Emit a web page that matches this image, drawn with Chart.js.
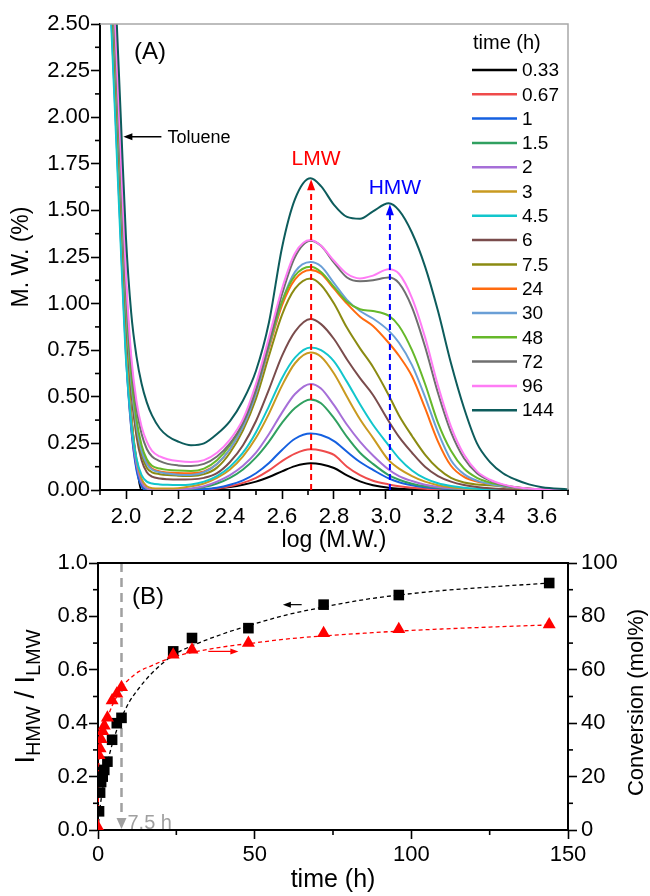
<!DOCTYPE html>
<html><head><meta charset="utf-8">
<script src="https://cdn.jsdelivr.net/npm/chart.js@4.4.1/dist/chart.umd.min.js"></script>
<style>
html,body{margin:0;padding:0;background:#fff;}
#wrap{position:relative;width:650px;height:896px;overflow:hidden;background:#fff;}
#ca{position:absolute;left:0;top:0;}
#cb{position:absolute;left:0;top:540px;}
</style></head><body>
<div id="wrap">
<canvas id="ca" width="650" height="570"></canvas>
<canvas id="cb" width="650" height="356"></canvas>
</div>
<script>
// ---------------- Panel A data ----------------
const logMW = [1.94,1.96,1.98,2.00,2.02,2.04,2.06,2.08,2.10,2.13,2.16,2.20,2.25,2.30,2.35,2.40,2.45,2.50,2.55,2.60,2.65,2.71,2.75,2.80,2.85,2.90,2.95,3.01,3.05,3.10,3.15,3.20,3.25,3.30,3.35,3.40,3.45,3.50,3.55,3.60,3.70];
const xTicksA = [2.0,2.2,2.4,2.6,2.8,3.0,3.2,3.4,3.6];
const timeLabels = ['0.33','0.67','1','1.5','2','3','4.5','6','7.5','24','30','48','72','96','144'];
const curveColors = ['#000000','#ef4b4b','#1560e0','#30a060','#a66fd8','#c99a20','#12c6cc','#7a4c4c','#8b8b12','#ff6b0f','#6a9fd6','#66b82a','#6f6f6f','#ff7cf5','#0d5c5c'];
const mw_0_33 = [2.75,2.1,1.45,0.8,0.4,0.15,0.0,0,0,0,0,0,0,0.003,0.008,0.016,0.028,0.045,0.07,0.1,0.128,0.143,0.138,0.118,0.078,0.046,0.026,0.012,0.007,0.004,0.002,0.001,0,0,0,0,0,0,0,0,0];
const mw_0_67 = [2.7,2.05,1.4,0.75,0.34,0.12,0.025,0,0,0,0,0,0,0.002,0.008,0.02,0.038,0.065,0.105,0.155,0.195,0.218,0.212,0.188,0.125,0.08,0.05,0.03,0.02,0.012,0.007,0.004,0.002,0.001,0,0,0,0,0,0,0];
const mw_1 = [2.65,2.0,1.35,0.72,0.33,0.11,0.02,0,0,0,0,0,0,0.004,0.012,0.028,0.052,0.09,0.145,0.215,0.275,0.303,0.295,0.262,0.205,0.15,0.108,0.062,0.042,0.026,0.015,0.009,0.005,0.003,0.001,0,0,0,0,0,0];
const mw_1_5 = [2.75,2.1,1.45,0.8,0.39,0.15,0.04,0.006,0,0,0,0.002,0.006,0.016,0.035,0.065,0.11,0.175,0.26,0.36,0.44,0.486,0.465,0.385,0.285,0.2,0.14,0.08,0.055,0.034,0.02,0.012,0.007,0.004,0.002,0.001,0,0,0,0,0];
const mw_2 = [2.7,2.05,1.4,0.75,0.36,0.14,0.04,0.008,0.002,0,0,0.002,0.008,0.02,0.045,0.08,0.13,0.2,0.3,0.415,0.515,0.569,0.545,0.455,0.35,0.26,0.185,0.11,0.075,0.048,0.028,0.016,0.009,0.005,0.003,0.001,0,0,0,0,0];
const mw_3 = [2.75,2.1,1.45,0.8,0.4,0.17,0.06,0.02,0.01,0.008,0.008,0.01,0.02,0.035,0.065,0.11,0.18,0.28,0.41,0.56,0.68,0.737,0.715,0.625,0.5,0.38,0.28,0.16,0.115,0.075,0.045,0.026,0.015,0.008,0.004,0.002,0.001,0,0,0,0];
const mw_4_5 = [2.6,1.95,1.3,0.7,0.36,0.17,0.08,0.045,0.035,0.03,0.028,0.027,0.03,0.045,0.075,0.125,0.2,0.31,0.45,0.6,0.71,0.764,0.75,0.69,0.58,0.46,0.35,0.24,0.17,0.105,0.062,0.036,0.021,0.012,0.007,0.004,0.002,0.001,0,0,0];
const mw_6 = [2.85,2.25,1.6,0.95,0.53,0.29,0.16,0.095,0.072,0.062,0.058,0.056,0.057,0.065,0.09,0.15,0.24,0.37,0.54,0.72,0.85,0.917,0.89,0.81,0.7,0.6,0.51,0.37,0.285,0.2,0.125,0.075,0.045,0.027,0.016,0.009,0.005,0.003,0.001,0,0];
const mw_7_5 = [2.9,2.3,1.65,1.0,0.57,0.33,0.19,0.12,0.095,0.085,0.08,0.077,0.075,0.085,0.12,0.2,0.32,0.49,0.72,0.94,1.08,1.135,1.1,1.0,0.87,0.76,0.66,0.51,0.4,0.29,0.19,0.115,0.065,0.04,0.03,0.025,0.018,0.01,0.005,0.002,0];
const mw_24 = [2.95,2.35,1.7,1.05,0.6,0.36,0.22,0.15,0.115,0.1,0.094,0.091,0.09,0.1,0.14,0.22,0.34,0.52,0.76,0.99,1.13,1.18,1.16,1.08,1.0,0.93,0.88,0.79,0.72,0.61,0.44,0.26,0.13,0.07,0.045,0.032,0.022,0.013,0.007,0.003,0];
const mw_30 = [2.9,2.3,1.65,1.0,0.58,0.35,0.21,0.14,0.11,0.095,0.088,0.082,0.08,0.095,0.14,0.22,0.34,0.52,0.77,1.01,1.17,1.223,1.2,1.11,1.02,0.96,0.92,0.855,0.79,0.67,0.5,0.31,0.16,0.085,0.05,0.032,0.02,0.012,0.006,0.003,0];
const mw_48 = [2.95,2.35,1.7,1.05,0.62,0.38,0.24,0.165,0.13,0.115,0.108,0.104,0.102,0.115,0.16,0.24,0.36,0.54,0.78,1.01,1.15,1.198,1.17,1.09,1.01,0.97,0.96,0.935,0.88,0.75,0.57,0.36,0.21,0.115,0.065,0.04,0.025,0.015,0.008,0.004,0];
const mw_72 = [3.0,2.4,1.75,1.1,0.68,0.44,0.3,0.22,0.18,0.155,0.14,0.132,0.129,0.14,0.18,0.25,0.36,0.54,0.79,1.05,1.25,1.337,1.31,1.22,1.14,1.12,1.125,1.14,1.11,0.98,0.77,0.52,0.31,0.17,0.09,0.05,0.027,0.014,0.007,0.003,0];
const mw_96 = [3.1,2.45,1.8,1.15,0.72,0.48,0.34,0.26,0.21,0.18,0.165,0.155,0.15,0.16,0.2,0.27,0.38,0.57,0.82,1.08,1.27,1.341,1.31,1.23,1.16,1.135,1.15,1.184,1.16,1.03,0.82,0.56,0.34,0.19,0.1,0.055,0.03,0.015,0.008,0.004,0];
const mw_144 = [3.3,2.65,2.0,1.35,0.95,0.72,0.57,0.47,0.4,0.33,0.29,0.26,0.24,0.25,0.3,0.37,0.48,0.64,0.9,1.3,1.56,1.672,1.63,1.53,1.465,1.455,1.495,1.538,1.5,1.38,1.2,0.96,0.68,0.44,0.25,0.15,0.09,0.055,0.03,0.015,0.003];
const mwSeries = [mw_0_33,mw_0_67,mw_1,mw_1_5,mw_2,mw_3,mw_4_5,mw_6,mw_7_5,mw_24,mw_30,mw_48,mw_72,mw_96,mw_144];
const lmwPeak = [2.712, 1.672];   // log MW, height of arrow tip
const hmwPeak = [3.015, 1.538];
const toluenePoint = [1.99, 1.895];

// ---------------- Panel B data ----------------
const timeRatio = [0.33,0.67,1,1.5,2,3,4.5,6,7.5,24,30,48,72,96,144];
const ratioHL   = [0.07,0.14,0.18,0.2,0.225,0.256,0.338,0.40,0.42,0.669,0.719,0.756,0.844,0.88,0.925];
const timeConv  = [0,0.33,0.67,1,1.5,2,3,4.5,6,7.5,24,30,48,72,96,144];
const conversion= [1,28,30.5,34,37,39,42,48.5,51,53.5,65.6,67.5,70,73.7,75.2,77];
const fitTime   = [0,0.33,0.67,1,2,3,4.5,6,7.5,10,13,17,24,30,40,48,60,72,85,96,110,125,144];
const fitRatio  = [0,0.045,0.085,0.115,0.19,0.25,0.32,0.375,0.42,0.48,0.53,0.585,0.655,0.69,0.735,0.765,0.805,0.835,0.863,0.88,0.897,0.91,0.925];
const fitConv   = [0,27,31,33.5,38.5,42,46.5,50,53.5,56.5,59.3,61.5,64.8,66.5,68.6,69.8,71.5,72.7,73.7,74.5,75.3,76,76.8];
const markTime = 7.5;

// ---------------- common ----------------
const FONT = "'Liberation Sans', Arial, Helvetica, sans-serif";
Chart.defaults.font.family = FONT;
Chart.defaults.color = '#000';
Chart.defaults.animation = false;

const minorTicks = {
  id: 'minorTicks',
  afterDraw(chart, args, opts) {
    const ctx = chart.ctx;
    (opts.list || []).forEach(cfg => {
      const s = chart.scales[cfg.id];
      const vals = s.ticks.map(t => t.value);
      if (vals.length < 2) return;
      const step = vals[1] - vals[0];
      ctx.save(); ctx.strokeStyle = '#000'; ctx.lineWidth = 1.6;
      for (let v = vals[0] - step / 2; v <= s.max + 1e-9; v += step) {
        if (v < s.min - 1e-9) continue;
        const p = s.getPixelForValue(v);
        ctx.beginPath();
        if (s.isHorizontal()) { ctx.moveTo(p, s.top); ctx.lineTo(p, s.top + cfg.len); }
        else if (s.position === 'left') { ctx.moveTo(s.right, p); ctx.lineTo(s.right - cfg.len, p); }
        else { ctx.moveTo(s.left, p); ctx.lineTo(s.left + cfg.len, p); }
        ctx.stroke();
      }
      ctx.restore();
    });
  }
};

function arrowHead(ctx, x, y, dir, len, half, color) {
  ctx.save(); ctx.fillStyle = color; ctx.beginPath();
  if (dir === 'up') { ctx.moveTo(x, y); ctx.lineTo(x - half, y + len); ctx.lineTo(x + half, y + len); }
  else if (dir === 'down') { ctx.moveTo(x, y); ctx.lineTo(x - half, y - len); ctx.lineTo(x + half, y - len); }
  else if (dir === 'left') { ctx.moveTo(x, y); ctx.lineTo(x + len, y - half); ctx.lineTo(x + len, y + half); }
  else { ctx.moveTo(x, y); ctx.lineTo(x - len, y - half); ctx.lineTo(x - len, y + half); }
  ctx.closePath(); ctx.fill(); ctx.restore();
}

// ---------------- Panel A ----------------
const decorA = {
  id: 'decorA',
  afterDatasetsDraw(chart) {
    const ctx = chart.ctx, ca = chart.chartArea, xs = chart.scales.x, ys = chart.scales.y;
    ctx.save();
    ctx.strokeStyle = '#a8a8a8'; ctx.lineWidth = 1.5;
    ctx.beginPath(); ctx.moveTo(ca.left, ca.top); ctx.lineTo(ca.right, ca.top); ctx.lineTo(ca.right, ca.bottom); ctx.stroke();
    [[lmwPeak, '#ff0000', 'LMW', 19], [hmwPeak, '#0000ff', 'HMW', 15]].forEach(([pk, col, txt, dy]) => {
      const px = xs.getPixelForValue(pk[0]), pt = ys.getPixelForValue(pk[1]), pb = ys.getPixelForValue(0);
      ctx.strokeStyle = col; ctx.lineWidth = 2; ctx.setLineDash([6, 4]);
      ctx.beginPath(); ctx.moveTo(px, pb); ctx.lineTo(px, pt + 8); ctx.stroke();
      ctx.setLineDash([]);
      arrowHead(ctx, px, pt + 1, 'up', 11, 4, col);
      ctx.fillStyle = col; ctx.font = '21px ' + FONT; ctx.textAlign = 'center'; ctx.textBaseline = 'middle';
      ctx.fillText(txt, px + 5, pt - dy);
    });
    const tx = xs.getPixelForValue(toluenePoint[0]), ty = ys.getPixelForValue(toluenePoint[1]);
    ctx.strokeStyle = '#000'; ctx.lineWidth = 1.3;
    ctx.beginPath(); ctx.moveTo(tx + 5, ty); ctx.lineTo(tx + 38, ty); ctx.stroke();
    arrowHead(ctx, tx, ty, 'left', 9, 3.5, '#000');
    ctx.fillStyle = '#000'; ctx.font = '18px ' + FONT; ctx.textAlign = 'left'; ctx.textBaseline = 'middle';
    ctx.fillText('Toluene', tx + 44, ty + 1);
    ctx.font = '24px ' + FONT; ctx.textAlign = 'center';
    ctx.fillText('(A)', ca.left + 50, ca.top + 28);
    const x0 = ca.right - 96;
    ctx.font = '20px ' + FONT; ctx.textAlign = 'left';
    ctx.fillText('time (h)', x0 + 1, ca.top + 19);
    chart.data.datasets.forEach((ds, i) => {
      const y = ca.top + 46 + i * 24.3;
      ctx.strokeStyle = ds.borderColor; ctx.lineWidth = 2.5;
      ctx.beginPath(); ctx.moveTo(x0, y); ctx.lineTo(x0 + 45, y); ctx.stroke();
      ctx.fillStyle = '#000'; ctx.font = '19px ' + FONT;
      ctx.fillText(ds.label, x0 + 50, y + 1);
    });
    ctx.restore();
  }
};

new Chart(document.getElementById('ca'), {
  type: 'line',
  data: {
    datasets: mwSeries.map((arr, i) => ({
      label: timeLabels[i],
      data: arr.map((v, j) => ({ x: logMW[j], y: v })),
      borderColor: curveColors[i],
      borderWidth: 2,
      pointRadius: 0,
      fill: false,
      cubicInterpolationMode: 'monotone',
      order: mwSeries.length - i
    }))
  },
  options: {
    responsive: false, devicePixelRatio: 1,
    layout: { padding: { top: 24, right: 82, left: 0, bottom: 0 } },
    plugins: { legend: { display: false }, tooltip: { enabled: false },
      minorTicks: { list: [{ id: 'x', len: 5 }, { id: 'y', len: 5 }] } },
    scales: {
      x: {
        type: 'linear', min: 1.9, max: 3.7,
        afterBuildTicks: s => { s.ticks = xTicksA.map(v => ({ value: v })); },
        ticks: { font: { size: 22 }, padding: 5, maxRotation: 0, autoSkip: false,
          callback: v => Number(v).toFixed(1) },
        grid: { display: true, drawOnChartArea: false, drawTicks: true, tickLength: 9, tickWidth: 1.6, tickColor: '#000' },
        border: { display: true, color: '#000', width: 2 },
        title: { display: true, text: 'log (M.W.)', font: { size: 23 }, padding: { top: 0, bottom: 16 } },
        afterFit: s => { s.height = 80; }
      },
      y: {
        type: 'linear', min: 0, max: 2.5,
        ticks: { stepSize: 0.25, font: { size: 22 }, padding: 1, callback: v => v.toFixed(2) },
        grid: { display: true, drawOnChartArea: false, drawTicks: true, tickLength: 9, tickWidth: 1.6, tickColor: '#000' },
        border: { display: true, color: '#000', width: 2 },
        title: { display: true, text: 'M. W. (%)', font: { size: 23 }, padding: { top: 8, bottom: 0 } },
        afterFit: s => { s.width = 100; }
      }
    }
  },
  plugins: [minorTicks, decorA]
});

// ---------------- Panel B ----------------
const decorB = {
  id: 'decorB',
  afterDatasetsDraw(chart) {
    const ctx = chart.ctx, ca = chart.chartArea, xs = chart.scales.x, ys = chart.scales.y, y2 = chart.scales.y2;
    ctx.save();
    ctx.strokeStyle = '#000'; ctx.lineWidth = 2;
    ctx.beginPath(); ctx.moveTo(ca.left, ca.top); ctx.lineTo(ca.right, ca.top); ctx.stroke();
    const mx = xs.getPixelForValue(markTime), my = ys.getPixelForValue(0);
    arrowHead(ctx, mx, my - 1, 'down', 11, 5, '#a0a0a0');
    ctx.fillStyle = '#a0a0a0'; ctx.font = '20px ' + FONT; ctx.textAlign = 'left'; ctx.textBaseline = 'middle';
    ctx.fillText('7.5 h', mx + 6, my - 7);
    const ay = ys.getPixelForValue(ratioHL[12]);
    const a1 = xs.getPixelForValue(59), a2 = xs.getPixelForValue(65);
    ctx.strokeStyle = '#000'; ctx.lineWidth = 1.2;
    ctx.beginPath(); ctx.moveTo(a1 + 6, ay); ctx.lineTo(a2, ay); ctx.stroke();
    arrowHead(ctx, a1, ay, 'left', 8, 3, '#000');
    const ry = y2.getPixelForValue(66.9);
    const r1 = xs.getPixelForValue(35.2), r2 = xs.getPixelForValue(44.8);
    ctx.strokeStyle = '#ff0000';
    ctx.beginPath(); ctx.moveTo(r1, ry); ctx.lineTo(r2 - 6, ry); ctx.stroke();
    arrowHead(ctx, r2, ry, 'right', 8, 3, '#ff0000');
    ctx.fillStyle = '#000'; ctx.font = '24px ' + FONT; ctx.textAlign = 'center';
    ctx.fillText('(B)', ca.left + 50, ca.top + 34);
    ctx.save();
    ctx.translate(27, (ca.top + ca.bottom) / 2);
    ctx.rotate(-Math.PI / 2);
    const parts = [['I', 27, 0], ['HMW', 20, 7], [' / I', 27, 0], ['LMW', 20, 7]];
    let total = 0;
    parts.forEach(p => { ctx.font = p[1] + 'px ' + FONT; total += ctx.measureText(p[0]).width; });
    let cx = -total / 2;
    ctx.textAlign = 'left'; ctx.textBaseline = 'middle'; ctx.fillStyle = '#000';
    parts.forEach(p => { ctx.font = p[1] + 'px ' + FONT; ctx.fillText(p[0], cx, p[2]); cx += ctx.measureText(p[0]).width; });
    ctx.restore();
    ctx.save();
    ctx.translate(chart.width - 13, (ca.top + ca.bottom) / 2 + 6);
    ctx.rotate(-Math.PI / 2);
    ctx.font = '22px ' + FONT; ctx.textAlign = 'center'; ctx.textBaseline = 'middle'; ctx.fillStyle = '#000';
    ctx.fillText('Conversion (mol%)', 0, 0);
    ctx.restore();
    ctx.restore();
  }
};

new Chart(document.getElementById('cb'), {
  type: 'line',
  data: {
    datasets: [
      { label: 'Conversion', data: timeConv.map((t, i) => ({ x: t, y: conversion[i] })), yAxisID: 'y2',
        showLine: false, pointStyle: 'triangle', pointRadius: 7.5, backgroundColor: '#ff0000', borderColor: '#ff0000', borderWidth: 0, order: 0 },
      { label: 'I ratio', data: timeRatio.map((t, i) => ({ x: t, y: ratioHL[i] })), yAxisID: 'y',
        showLine: false, pointStyle: 'rect', pointRadius: 7.5, backgroundColor: '#000', borderColor: '#000', borderWidth: 0, order: 1 },
      { label: 'fit conv', data: fitTime.map((t, i) => ({ x: t, y: fitConv[i] })), yAxisID: 'y2',
        borderColor: '#ff0000', borderWidth: 1.3, borderDash: [4, 3], pointRadius: 0, cubicInterpolationMode: 'monotone', order: 2 },
      { label: 'fit ratio', data: fitTime.map((t, i) => ({ x: t, y: fitRatio[i] })), yAxisID: 'y',
        borderColor: '#000', borderWidth: 1.3, borderDash: [4, 3], pointRadius: 0, cubicInterpolationMode: 'monotone', order: 3 },
      { label: 'mark', data: [{ x: markTime, y: 1 }, { x: markTime, y: 0.03 }], yAxisID: 'y',
        borderColor: '#a0a0a0', borderWidth: 2.5, borderDash: [9, 6], pointRadius: 0, order: 4 }
    ]
  },
  options: {
    responsive: false, devicePixelRatio: 1,
    layout: { padding: { top: 23, right: 0, left: 0, bottom: 0 } },
    plugins: { legend: { display: false }, tooltip: { enabled: false },
      minorTicks: { list: [{ id: 'x', len: 5 }, { id: 'y', len: 5 }, { id: 'y2', len: 5 }] } },
    scales: {
      x: {
        type: 'linear', min: 0, max: 150,
        ticks: { stepSize: 50, font: { size: 22 }, padding: 3, maxRotation: 0 },
        grid: { display: true, drawOnChartArea: false, drawTicks: true, tickLength: 9, tickWidth: 1.6, tickColor: '#000' },
        border: { display: true, color: '#000', width: 2 },
        title: { display: true, text: 'time (h)', font: { size: 25 }, padding: { top: 0, bottom: 1 } },
        afterFit: s => { s.height = 66; }
      },
      y: {
        type: 'linear', position: 'left', min: 0, max: 1.0,
        ticks: { stepSize: 0.2, font: { size: 22 }, padding: 1, callback: v => v.toFixed(1) },
        grid: { display: true, drawOnChartArea: false, drawTicks: true, tickLength: 9, tickWidth: 1.6, tickColor: '#000' },
        border: { display: true, color: '#000', width: 2 },
        title: { display: false },
        afterFit: s => { s.width = 98; }
      },
      y2: {
        type: 'linear', position: 'right', min: 0, max: 100,
        ticks: { stepSize: 20, font: { size: 22 }, padding: 4 },
        grid: { display: true, drawOnChartArea: false, drawTicks: true, tickLength: 9, tickWidth: 1.6, tickColor: '#000' },
        border: { display: true, color: '#000', width: 2 },
        title: { display: false },
        afterFit: s => { s.width = 82; }
      }
    }
  },
  plugins: [minorTicks, decorB]
});
</script>
</body></html>
